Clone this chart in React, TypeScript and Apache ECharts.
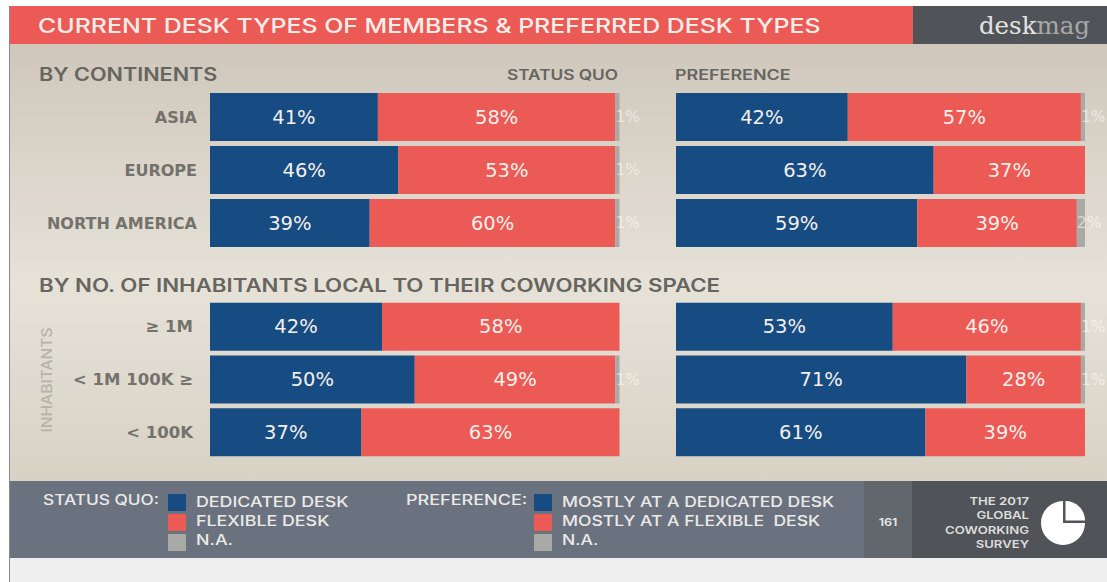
import React, { useEffect, useRef } from "react";
import * as echarts from "echarts";

const continents = ["ASIA", "EUROPE", "NORTH AMERICA"];
const inhabitants = ["≥ 1M", "< 1M 100K ≥", "< 100K"];

const contQuoDedicated = [41, 46, 39];
const contQuoFlexible = [58, 53, 60];
const contQuoNa = [1, 1, 1];
const contPrefDedicated = [42, 63, 59];
const contPrefFlexible = [57, 37, 39];
const contPrefNa = [1, 0, 2];

const inhQuoDedicated = [42, 50, 37];
const inhQuoFlexible = [58, 49, 63];
const inhQuoNa = [0, 1, 0];
const inhPrefDedicated = [53, 71, 61];
const inhPrefFlexible = [46, 28, 39];
const inhPrefNa = [1, 1, 0];

const legendQuo = ["DEDICATED DESK", "FLEXIBLE DESK", "N.A."];
const legendPref = ["MOSTLY AT A DEDICATED DESK", "MOSTLY AT A FLEXIBLE  DESK", "N.A."];
const surveyLines = ["THE 2017", "GLOBAL", "COWORKING", "SURVEY"];

const BLUE = "#174c83";
const RED = "#ec5a55";
const GRAY = "#a9aaa6";
const FONT = "Inter";
const LABEL_FONT = "DejaVu Sans";

function seriesFor(idx: number, a: number[], b: number[], c: number[]) {
  const common = {
    type: "bar" as const,
    stack: "s" + idx,
    xAxisIndex: idx,
    yAxisIndex: idx,
    barWidth: 48,
    silent: true,
  };
  const lab = {
    show: true,
    position: "inside" as const,
    color: "#f4efeb",
    fontFamily: LABEL_FONT,
    fontSize: 19.5,
    fontWeight: 400,
    formatter: "{c}%",
  };
  return [
    { ...common, name: "Dedicated", data: a, itemStyle: { color: BLUE }, label: lab },
    { ...common, name: "Flexible", data: b, itemStyle: { color: RED }, label: lab },
    {
      ...common,
      name: "N.A.",
      data: c.map((v) => (v > 0 ? v : null)),
      itemStyle: { color: GRAY },
      label: {
        ...lab,
        position: "insideLeft" as const,
        distance: 0,
        fontSize: 15.5,
        color: "rgba(255,255,255,0.55)",
      },
    },
  ];
}

const txt = (x: number, y: number, text: string, fontSize: number, fill: string, fontWeight: number | string, scaleX: number, textAlign = "left") => ({
  type: "text",
  z: 1,
  x,
  y,
  scaleX,
  style: { text, fontSize, fill, fontWeight, textAlign, textVerticalAlign: "middle", fontFamily: FONT },
});
const box = (x: number, y: number, width: number, height: number, fill: any) => ({
  type: "rect",
  z: 0,
  shape: { x, y, width, height },
  style: { fill },
});

export default function App() {
  const ref = useRef<HTMLDivElement>(null);
  useEffect(() => {
    document.body.style.margin = "0";
    const chart = echarts.init(ref.current!, undefined, { renderer: "svg" });
    const grids = [
      { left: 210, top: 90.5, width: 409.5, height: 159 },
      { left: 676, top: 90.5, width: 409, height: 159 },
      { left: 210, top: 300.5, width: 409.5, height: 158 },
      { left: 676, top: 300.5, width: 409, height: 158 },
    ];
    const cats = [continents, continents, inhabitants, inhabitants];
    chart.setOption({
      animation: false,
      backgroundColor: "#ffffff",
      grid: grids,
      xAxis: grids.map((_, i) => ({ type: "value", gridIndex: i, min: 0, max: 100, show: false })),
      yAxis: grids.map((_, i) => ({
        type: "category",
        gridIndex: i,
        inverse: true,
        data: cats[i],
        axisLine: { show: false },
        axisTick: { show: false },
        axisLabel: {
          show: i % 2 === 0,
          margin: i === 0 ? 13 : 17,
          color: "#74726c",
          fontFamily: LABEL_FONT,
          fontWeight: 700,
          fontSize: i === 0 ? 16 : 16.5,
        },
      })),
      series: [
        ...seriesFor(0, contQuoDedicated, contQuoFlexible, contQuoNa),
        ...seriesFor(1, contPrefDedicated, contPrefFlexible, contPrefNa),
        ...seriesFor(2, inhQuoDedicated, inhQuoFlexible, inhQuoNa),
        ...seriesFor(3, inhPrefDedicated, inhPrefFlexible, inhPrefNa),
      ],
      graphic: {
        elements: [
          box(9, 44, 1098, 437, {
            type: "linear", x: 0, y: 0, x2: 0, y2: 1,
            colorStops: [
              { offset: 0, color: "#cfc7bb" },
              { offset: 0.55, color: "#e6e2d8" },
              { offset: 1, color: "#d8d2c5" },
            ],
          }),
          box(9, 6, 904, 38, RED),
          box(913, 6, 194, 38, "#505459"),
          box(9, 481, 855, 77, "#6a7280"),
          box(864, 481, 48, 77, "#62676e"),
          box(912, 481, 195, 77, "#505459"),
          box(9, 558, 1098, 24, "#efefef"),
          box(9, 6, 1, 576, "#8a8a88"),
          txt(38, 25, "CURRENT DESK TYPES OF MEMBERS & PREFERRED DESK TYPES", 20, "#f7eeea", 500, 1.245),
          {
            type: "text", z: 1, x: 1090, y: 25,
            style: {
              text: "{a|desk}{b|mag}",
              textAlign: "right",
              textVerticalAlign: "middle",
              rich: {
                a: { fontFamily: "DejaVu Serif", fontSize: 24.5, fill: "#e4e4e2", color: "#e4e4e2" },
                b: { fontFamily: "DejaVu Serif", fontSize: 24.5, fontWeight: 300, fill: "#a6a8a8", color: "#a6a8a8" },
              },
            },
          },
          txt(39, 75, "BY CONTINENTS", 18, "#66655f", 600, 1.2),
          txt(507, 75, "STATUS QUO", 14, "#66655f", 600, 1.233),
          txt(675, 75, "PREFERENCE", 14, "#66655f", 600, 1.28),
          txt(39, 285, "BY NO. OF INHABITANTS LOCAL TO THEIR COWORKING SPACE", 18, "#66655f", 600, 1.236),
          {
            type: "text", z: 1, x: 47, y: 380, rotation: Math.PI / 2, scaleX: 1.115,
            style: { text: "INHABITANTS", fontSize: 14, fill: "#b4b2aa", fontWeight: 500, fontFamily: FONT, textAlign: "center", textVerticalAlign: "middle" },
          },
          txt(43, 500, "STATUS QUO:", 14, "#eceae6", 500, 1.234),
          box(168, 494, 18, 17, BLUE),
          box(168, 514, 18, 17, RED),
          box(168, 534, 18, 17, GRAY),
          ...legendQuo.map((t, i) => txt(196, 502 + i * 19, t, 14.5, "#eceae6", 500, 1.23)),
          txt(406, 500, "PREFERENCE:", 14, "#eceae6", 500, 1.287),
          box(534, 494, 18, 17, BLUE),
          box(534, 514, 18, 17, RED),
          box(534, 534, 18, 17, GRAY),
          ...legendPref.map((t, i) => txt(562, 502 + i * 19, t, 14.5, "#eceae6", 500, 1.21)),
          txt(888, 522, "161", 10.5, "#e8e8e6", 600, 1.2, "center"),
          ...surveyLines.map((t, i) => txt(1029, 501 + i * 14.3, t, 10.5, "#dededc", 600, 1.25, "right")),
          {
            type: "sector", z: 1,
            shape: { cx: 1063, cy: 523, r: 22, r0: 0, startAngle: 0, endAngle: Math.PI * 1.5, clockwise: true },
            style: { fill: "#ffffff" },
          },
          {
            type: "sector", z: 1,
            shape: { cx: 1065.5, cy: 520.5, r: 19.5, r0: 0, startAngle: Math.PI * 1.5, endAngle: Math.PI * 2, clockwise: true },
            style: { fill: "#ffffff" },
          },
        ],
      },
    });
    return () => chart.dispose();
  }, []);
  return <div ref={ref} style={{ width: 1107, height: 582, position: "absolute", left: 0, top: 0 }} />;
}
